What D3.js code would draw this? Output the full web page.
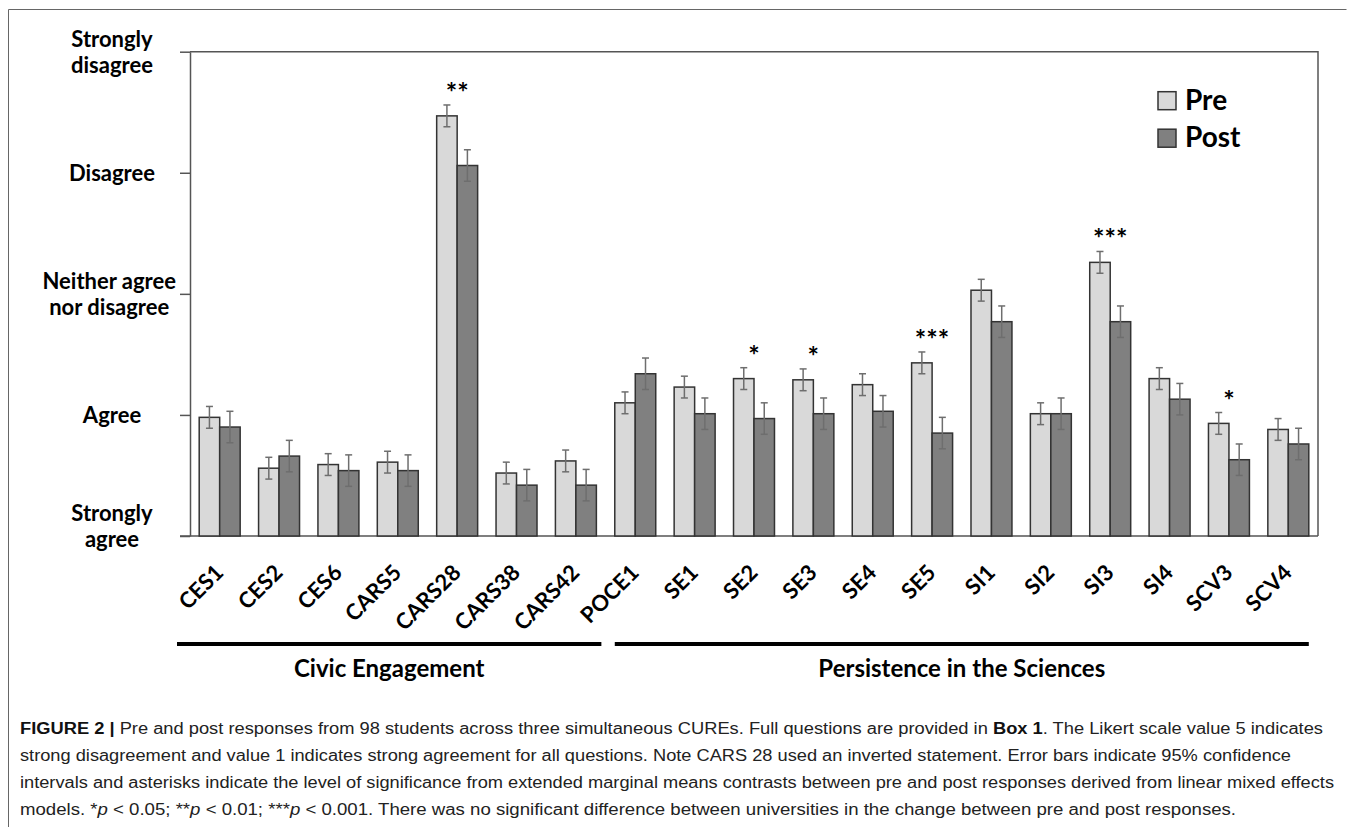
<!DOCTYPE html>
<html>
<head>
<meta charset="utf-8">
<script src="https://cdn.jsdelivr.net/npm/d3@7"></script>
<style>
  body { margin: 0; background: #fff; }
  svg { display: block; }
</style>
</head>
<body>
<svg id="chart" width="1355" height="827"></svg>
<script>
"use strict";

// survey items, in chart order
var categories = ["CES1", "CES2", "CES6", "CARS5", "CARS28", "CARS38", "CARS42",
                  "POCE1", "SE1", "SE2", "SE3", "SE4", "SE5", "SI1", "SI2", "SI3",
                  "SI4", "SCV3", "SCV4"];

// mean Likert response (1 = strongly agree ... 5 = strongly disagree)
var preMean  = [1.98, 1.56, 1.59, 1.61, 4.47, 1.52, 1.62, 2.10, 2.23, 2.30,
                2.29, 2.25, 2.43, 3.03, 2.01, 3.26, 2.30, 1.93, 1.88];
var postMean = [1.90, 1.66, 1.54, 1.54, 4.06, 1.42, 1.42, 2.34, 2.01, 1.97,
                2.01, 2.03, 1.85, 2.77, 2.01, 2.77, 2.13, 1.63, 1.76];

// half width of the 95% confidence interval
var preCI  = [0.09, 0.09, 0.09, 0.09, 0.09, 0.09, 0.09, 0.09, 0.09, 0.09,
              0.09, 0.09, 0.09, 0.09, 0.09, 0.09, 0.09, 0.09, 0.09];
var postCI = [0.13, 0.13, 0.13, 0.13, 0.13, 0.13, 0.13, 0.13, 0.13, 0.13,
              0.13, 0.13, 0.13, 0.13, 0.13, 0.13, 0.13, 0.13, 0.13];

// significance markers (pre vs post)
var significance = ["", "", "", "", "**", "", "", "", "", "*", "*", "", "***",
                    "", "", "***", "", "*", ""];

var series = ["Pre", "Post"];

var yTickValues = [1, 2, 3, 4, 5];
var yTickLabels = [["Strongly", "agree"], ["Agree"], ["Neither agree", "nor disagree"],
                   ["Disagree"], ["Strongly", "disagree"]];

var groups = [
  {name: "Civic Engagement", first: "CES1", last: "CARS42"},
  {name: "Persistence in the Sciences", first: "POCE1", last: "SCV4"}
];

var captionLines = [
  [["b", "FIGURE 2 |"], ["", " Pre and post responses from 98 students across three simultaneous CUREs. Full questions are provided in "], ["b", "Box 1"], ["", ". The Likert scale value 5 indicates"]],
  [["", "strong disagreement and value 1 indicates strong agreement for all questions. Note CARS 28 used an inverted statement. Error bars indicate 95% confidence"]],
  [["", "intervals and asterisks indicate the level of significance from extended marginal means contrasts between pre and post responses derived from linear mixed effects"]],
  [["", "models. *"], ["i", "p"], ["", " < 0.05; **"], ["i", "p"], ["", " < 0.01; ***"], ["i", "p"], ["", " < 0.001. There was no significant difference between universities in the change between pre and post responses."]]
];
var captionEnds = [1323, 1291, 1334, 1236];

// ---- layout
var W = 1355, H = 827;
var plotLeft = 190, plotRight = 1318, plotTop = 51.7, plotBottom = 536;
var axisColor = "#555";
var fillColor = {Pre: "#d9d9d9", Post: "#808080"};
var font = "Lato, 'Open Sans', sans-serif";

var svg = d3.select("#chart");

// outer figure frame
svg.append("path")
  .attr("d", "M8.5," + H + "V9.5H1346.5")
  .attr("fill", "none")
  .attr("stroke", "#666")
  .attr("stroke-width", 1);

var x = d3.scaleBand()
  .domain(categories)
  .range([plotLeft, plotRight])
  .paddingInner(0.31)
  .paddingOuter(0.155);

var xs = d3.scaleBand()
  .domain(series)
  .range([0, x.bandwidth()]);

var y = d3.scaleLinear()
  .domain([1, 5])
  .range([plotBottom, plotTop]);

// plot frame (top + right)
svg.append("path")
  .attr("d", "M" + plotLeft + "," + plotTop + "H" + plotRight + "V" + plotBottom)
  .attr("fill", "none")
  .attr("stroke", axisColor)
  .attr("stroke-width", 1.5);

// y axis
var yAxis = svg.append("g")
  .attr("transform", "translate(" + plotLeft + ",0)")
  .call(d3.axisLeft(y).tickValues(yTickValues).tickSize(10).tickSizeOuter(0).tickFormat(""));
yAxis.selectAll("path, line").attr("stroke", axisColor).attr("stroke-width", 1.5);

// baseline, reaching out to the tick length
svg.append("line")
  .attr("x1", plotLeft - 10).attr("x2", plotRight)
  .attr("y1", y(1)).attr("y2", y(1))
  .attr("stroke", axisColor)
  .attr("stroke-width", 1.5);

// y tick labels (centred on the tick, kept clear of the axis and the x labels)
var lineGap = 26, labelCenter = 112, labelMaxRight = 176, maxBaseline = plotBottom + 11;
yTickValues.forEach(function(v, i) {
  var lines = yTickLabels[i];
  var t = svg.append("text")
    .attr("font-family", font)
    .attr("font-weight", "bold")
    .attr("font-size", 22)
    .attr("fill", "#000")
    .attr("text-anchor", "middle");
  var first = y(v) + 8 - (lines.length - 1) * lineGap / 2;
  var last = first + (lines.length - 1) * lineGap;
  if (last > maxBaseline) first -= last - maxBaseline;
  lines.forEach(function(s, j) {
    t.append("tspan").attr("y", first + j * lineGap).text(s);
  });
  var w = d3.max(t.selectAll("tspan").nodes(), function(n) { return n.getComputedTextLength(); });
  var cx = Math.min(labelCenter, labelMaxRight - w / 2);
  t.selectAll("tspan").attr("x", cx);
});

// bars
var rows = categories.map(function(c, i) {
  return {cat: c, sig: significance[i], vals: [
    {s: "Pre", m: preMean[i], ci: preCI[i]},
    {s: "Post", m: postMean[i], ci: postCI[i]}
  ]};
});

var grp = svg.append("g").selectAll("g")
  .data(rows)
  .enter().append("g")
  .attr("transform", function(d) { return "translate(" + x(d.cat) + ",0)"; });

grp.selectAll("rect")
  .data(function(d) { return d.vals; })
  .enter().append("rect")
  .attr("x", function(d) { return xs(d.s); })
  .attr("width", xs.bandwidth())
  .attr("y", function(d) { return y(d.m); })
  .attr("height", function(d) { return y(1) - y(d.m); })
  .attr("fill", function(d) { return fillColor[d.s]; })
  .attr("stroke", "#333")
  .attr("stroke-width", 1.5);

// error bars
var cap = 3.5;
var err = grp.selectAll("g.err")
  .data(function(d) { return d.vals; })
  .enter().append("g")
  .attr("class", "err")
  .attr("stroke", "#6e6e6e")
  .attr("stroke-width", 1.5);
err.append("line")
  .attr("x1", function(d) { return xs(d.s) + xs.bandwidth() / 2; })
  .attr("x2", function(d) { return xs(d.s) + xs.bandwidth() / 2; })
  .attr("y1", function(d) { return y(d.m + d.ci); })
  .attr("y2", function(d) { return y(d.m - d.ci); });
[1, -1].forEach(function(sign) {
  err.append("line")
    .attr("x1", function(d) { return xs(d.s) + xs.bandwidth() / 2 - cap; })
    .attr("x2", function(d) { return xs(d.s) + xs.bandwidth() / 2 + cap; })
    .attr("y1", function(d) { return y(d.m + sign * d.ci); })
    .attr("y2", function(d) { return y(d.m + sign * d.ci); });
});

// significance asterisks
grp.filter(function(d) { return d.sig; })
  .append("text")
  .attr("x", x.bandwidth() / 2)
  .attr("y", function(d) { return y(d.vals[0].m + d.vals[0].ci) - 3; })
  .attr("text-anchor", "middle")
  .attr("font-family", font)
  .attr("font-weight", "bold")
  .attr("font-size", 27)
  .text(function(d) { return d.sig; });

// x labels, rotated
svg.append("g").selectAll("text")
  .data(categories)
  .enter().append("text")
  .attr("transform", function(d) { return "translate(" + (x(d) + x.bandwidth() / 2 + 5) + ",574) rotate(-45)"; })
  .attr("text-anchor", "end")
  .attr("font-family", font)
  .attr("font-weight", "bold")
  .attr("font-size", 22)
  .text(function(d) { return d; });

// category group brackets
groups.forEach(function(g, i) {
  var x1 = i === 0 ? plotLeft - 13 : x(g.first);
  var x2 = i === 0 ? x(g.last) + x.bandwidth() + 5 : x(g.last) + x.bandwidth();
  svg.append("line")
    .attr("x1", x1).attr("x2", x2)
    .attr("y1", 644).attr("y2", 644)
    .attr("stroke", "#000")
    .attr("stroke-width", 4);
  svg.append("text")
    .attr("x", (x1 + x2) / 2)
    .attr("y", 677)
    .attr("text-anchor", "middle")
    .attr("font-family", font)
    .attr("font-weight", "bold")
    .attr("font-size", 24)
    .text(g.name);
});

// legend
var legend = svg.append("g").selectAll("g")
  .data(series)
  .enter().append("g")
  .attr("transform", function(d, i) { return "translate(1158," + (91.7 + i * 37.5) + ")"; });
legend.append("rect")
  .attr("width", 18).attr("height", 18)
  .attr("fill", function(d) { return fillColor[d]; })
  .attr("stroke", "#333")
  .attr("stroke-width", 1.5);
legend.append("text")
  .attr("x", 27).attr("y", 18)
  .attr("font-family", font)
  .attr("font-weight", "bold")
  .attr("font-size", 28)
  .text(function(d) { return d; });

// caption
captionLines.forEach(function(parts, i) {
  var t = svg.append("text")
    .attr("x", 20)
    .attr("y", 734 + i * 27)
    .attr("font-family", "'Liberation Sans Narrow', 'Liberation Sans', Arial, sans-serif")
    .attr("font-size", 16)
    .attr("fill", "#222")
    .attr("textLength", captionEnds[i] - 20)
    .attr("lengthAdjust", "spacingAndGlyphs");
  parts.forEach(function(p) {
    var ts = t.append("tspan").text(p[1]);
    if (p[0] === "b") ts.attr("font-weight", "bold").attr("fill", "#111");
    if (p[0] === "i") ts.attr("font-style", "italic");
  });
});
</script>
</body>
</html>
